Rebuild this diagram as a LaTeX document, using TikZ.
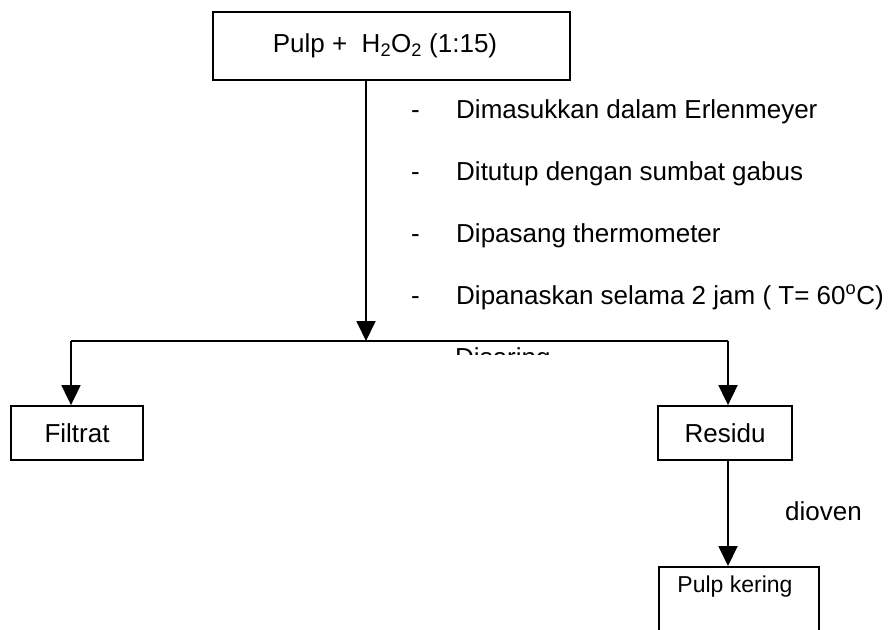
\documentclass[tikz,border=0pt]{standalone}
\usepackage{fontspec}
\setmainfont{Liberation Sans}
\usetikzlibrary{arrows.meta}
\begin{document}
\begin{tikzpicture}[x=1pt,y=-1pt,
  every node/.style={font=\fontsize{26}{30}\selectfont, inner sep=0pt},
  box/.style={draw, line width=1.8pt, minimum height=54pt},
  link/.style={line width=1.8pt},
  arr/.style={link, -{Triangle[length=20pt,width=19pt]}},
  item/.style={anchor=base west}]
\useasboundingbox (0,0) rectangle (890,629);
\clip (0,0) rectangle (890,629);

% starting material (label sits a little left of the box centre)
\node[box, minimum width=357pt, minimum height=68pt] (feed) at (391.5,46)
  {Pulp +\ \ H\textsubscript{2}O\textsubscript{2} (1:15)\hspace*{13pt}};

% process steps
\foreach \i/\y/\t in {1/118/Dimasukkan dalam Erlenmeyer,
                      2/180/Ditutup dengan sumbat gabus,
                      3/242/Dipasang thermometer,
                      4/304/{Dipanaskan selama 2 jam ( T= 60\textsuperscript{o}C)}}{
  \node[item] (dash\i) at (411,\y) {-};
  \node[item] (step\i) at (456,\y) {\t};
}
\begin{scope}
  \clip (400,340) rectangle (600,354);
  \node[item] (step5) at (455,366) {Disaring};
\end{scope}

% split point and branches
\coordinate (split) at (366,341);
\coordinate (leftc) at (71,341);
\coordinate (rightc) at (728,341);

\node[box, minimum width=132pt] (filtrat) at (77,433) {Filtrat};
\node[box, minimum width=134pt] (residu) at (725,433) {Residu};
\node[draw, line width=1.8pt, minimum width=160pt, minimum height=100pt, anchor=north] (kering) at (739,566) {};
\node[anchor=base, font=\fontsize{23}{27}\selectfont] (keringtext) at (735,592) {Pulp kering};
\node[anchor=base west] (dioven) at (785,520) {dioven};

\draw[arr] (feed.south -| split) -- (split);
\draw[link] (leftc) -- (rightc);
\draw[arr] (leftc) -- (leftc |- filtrat.north);
\draw[arr] (rightc) -- (rightc |- residu.north);
\draw[arr] (residu.south -| rightc) -- (rightc |- kering.north);
\end{tikzpicture}
\end{document}
